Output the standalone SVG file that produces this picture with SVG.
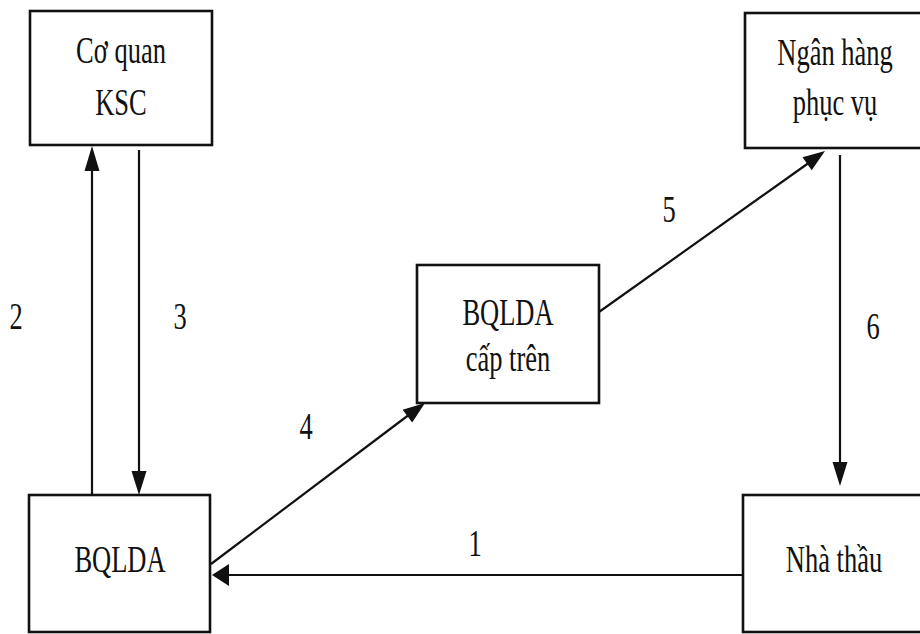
<svg xmlns="http://www.w3.org/2000/svg" width="920" height="634" viewBox="0 0 920 634">
<style>
.box{fill:#fff;stroke:#111;stroke-width:2.6}
.ln{stroke:#111;stroke-width:2.2;fill:none}
.head{fill:#111;stroke:none}
text{font-family:"Liberation Serif","Times New Roman",serif;font-size:26.5px;fill:#111;text-anchor:middle}
</style>
<rect width="920" height="634" fill="#fff"/>
<g id="connectors">
<line class="ln" x1="92" y1="495" x2="92" y2="165"/>
<polygon class="head" points="92,146 84.5,171 99.5,171"/>
<line class="ln" x1="139" y1="150" x2="139" y2="475"/>
<polygon class="head" points="139,495 131.5,471 146.5,471"/>
<line class="ln" x1="211" y1="564" x2="410" y2="414"/>
<polygon class="head" points="425,403 412.2,422.6 402.6,409.8"/>
<line class="ln" x1="599" y1="312" x2="810" y2="162"/>
<polygon class="head" points="825,151 811.7,170.3 802.5,157.3"/>
<line class="ln" x1="840" y1="155" x2="840" y2="466"/>
<polygon class="head" points="840,486 832.5,462 847.5,462"/>
<line class="ln" x1="743" y1="575" x2="226" y2="575"/>
<polygon class="head" points="212,575 229,564 229,586"/>
<text transform="translate(16,329) scale(1,1.4)">2</text>
<text transform="translate(180,329) scale(1,1.4)">3</text>
<text transform="translate(306,439) scale(1,1.4)">4</text>
<text transform="translate(669,222) scale(1,1.4)">5</text>
<text transform="translate(873,339) scale(1,1.4)">6</text>
<text transform="translate(475,556) scale(1,1.4)">1</text>
</g>
<g id="ksc">
<rect class="box" x="30" y="11" width="182" height="134"/>
<text transform="translate(121,63) scale(1,1.4)">Cơ quan</text>
<text transform="translate(121,115) scale(1,1.4)">KSC</text>
</g>
<g id="nganhang">
<rect class="box" x="745" y="13" width="185" height="135"/>
<text transform="translate(835,65) scale(1,1.4)">Ngân hàng</text>
<text transform="translate(835,115) scale(1,1.4)">phục vụ</text>
</g>
<g id="bqlda-captren">
<rect class="box" x="417" y="265" width="182" height="138"/>
<text transform="translate(508,325) scale(1,1.4)">BQLDA</text>
<text transform="translate(508,371) scale(1,1.4)">cấp trên</text>
</g>
<g id="bqlda">
<rect class="box" x="29" y="495" width="181" height="137"/>
<text transform="translate(120,572) scale(1,1.4)">BQLDA</text>
</g>
<g id="nhathau">
<rect class="box" x="743" y="495" width="187" height="137"/>
<text transform="translate(834,572) scale(1,1.4)">Nhà thầu</text>
</g>
</svg>
